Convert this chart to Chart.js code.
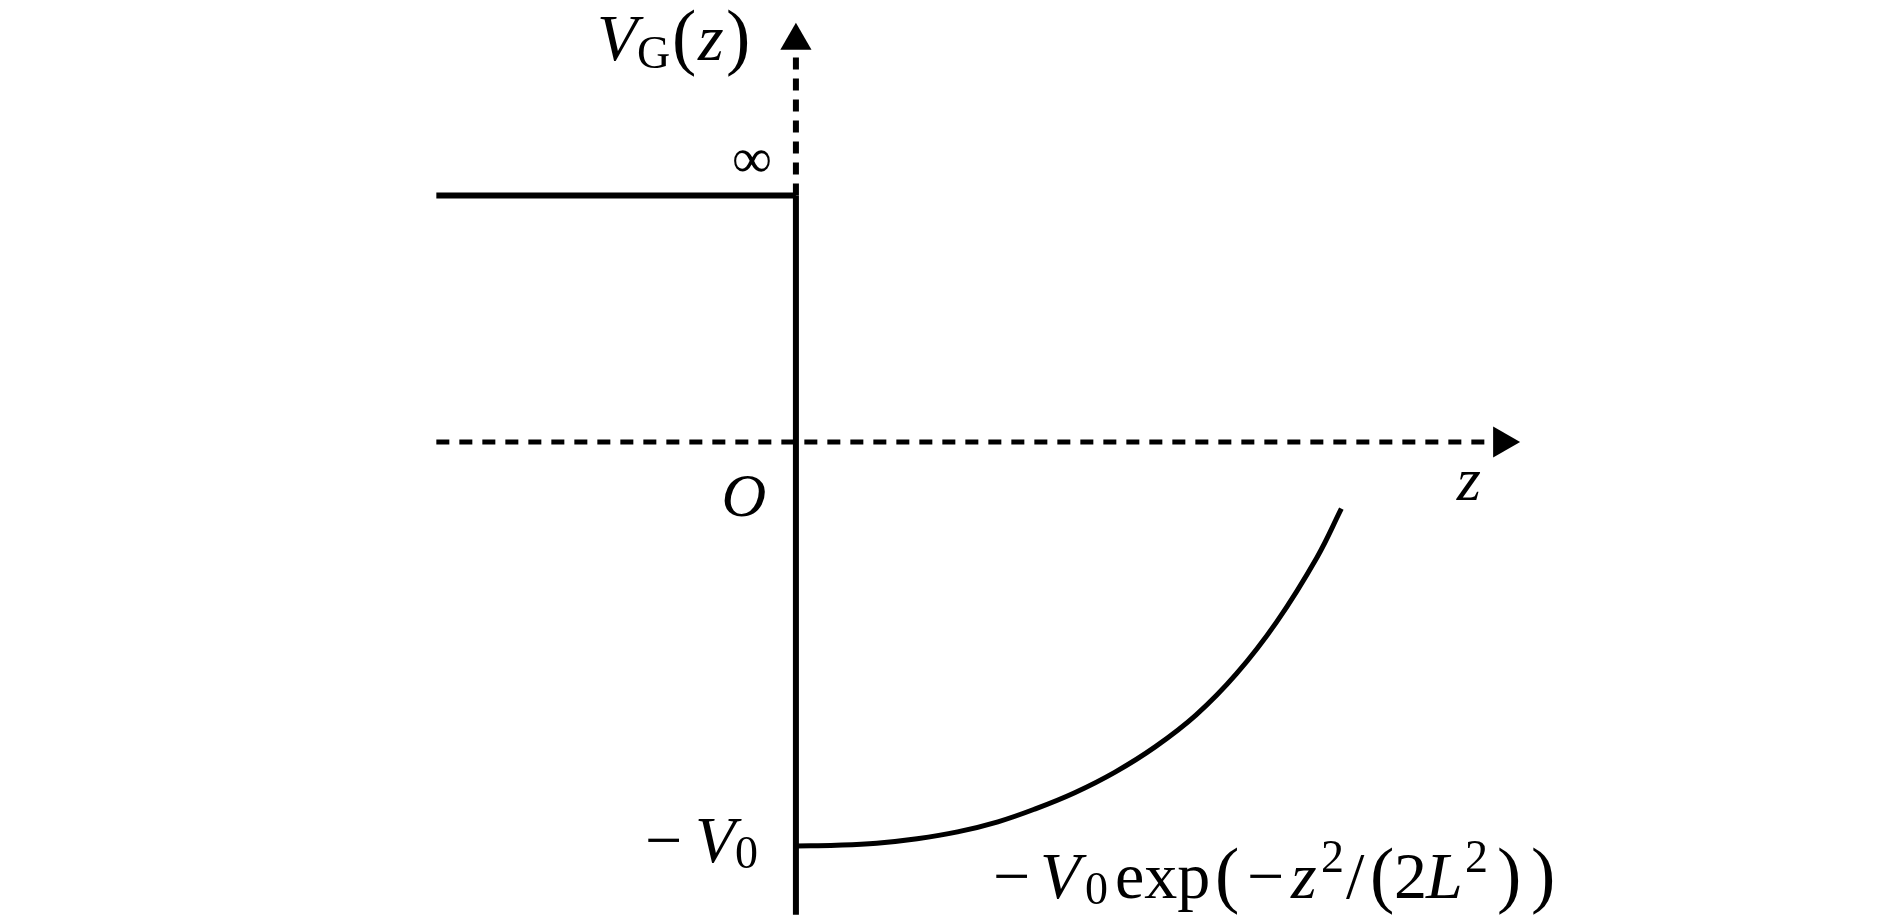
<!DOCTYPE html>
<html>
<head>
<meta charset="utf-8">
<script src="https://cdn.jsdelivr.net/npm/chart.js@4.4.0/dist/chart.umd.min.js"></script>
<style>
  html, body { margin: 0; padding: 0; background: #fff; }
  #wrap { width: 1890px; height: 922px; position: relative; }
</style>
</head>
<body>
<div id="wrap"><canvas id="chart"></canvas></div>
<script>
// units: V in V0, z in the same length as V0 on screen
const wallZ = [-0.89, 0];
const wallV = [0.61, 0.61];
const barrierZ = [0, 0];
const barrierV = [0.61, -1.17];
const vAxisZ = [0, 0];
const vAxisV = [0.61, 0.97];
const zAxisZ = [-0.89, 1.73];
const zAxisV = [0, 0];

// curve
const curveZ = [0, 0.1, 0.2, 0.3, 0.4, 0.5, 0.59, 0.69, 0.79, 0.89, 0.99, 1.09, 1.19, 1.29, 1.35];
const curveV = [-1.0, -0.998, -0.993, -0.982, -0.965, -0.940, -0.909, -0.868, -0.817, -0.754, -0.676, -0.574, -0.445, -0.285, -0.165];

// arrow heads (centre of triangles) on the two axes
const arrowZ = [0, 1.748];
const arrowV = [0.993, 0];
const arrowRot = [0, 90];

function pts(xs, ys) {
    let out = [];
    for (let i = 0; i < xs.length; i++) out.push({ x: xs[i], y: ys[i] });
    return out;
}

const FONT = '"Liberation Serif", "DejaVu Serif", serif';

// draw text runs, each at its own offset o (px) from x
function drawRuns(ctx, runs, x, base, size) {
    runs.forEach(r => {
        ctx.font = (r.it ? 'italic ' : '') + Math.round(size * (r.s || 1)) + 'px ' + FONT;
        ctx.fillText(r.t, x + r.o, base + (r.dy || 0) * size);
    });
}

const labelsPlugin = {
    id: 'labels',
    afterDatasetsDraw(chart) {
        const ctx = chart.ctx;
        const ox = chart.scales.x.getPixelForValue(0);
        const oy = chart.scales.y.getPixelForValue(0);
        ctx.save();
        ctx.fillStyle = '#000';
        ctx.textBaseline = 'alphabetic';
        ctx.textAlign = 'left';

        // V_G(z)
        drawRuns(ctx, [
            { t: 'V', it: true, o: 0 },
            { t: 'G', s: 0.7, dy: 0.12, o: 40 },
            { t: '(', s: 1.1, dy: 0.02, o: 75 },
            { t: 'z', it: true, o: 101 },
            { t: ')', s: 1.1, dy: 0.02, o: 129 }
        ], ox - 199, oy - 382, 66);

        // infinity
        ctx.textAlign = 'center';
        drawRuns(ctx, [{ t: '\u221E', o: 0 }], ox - 44, oy - 265, 56);

        // O
        drawRuns(ctx, [{ t: 'O', it: true, o: 0 }], ox - 52, oy + 74, 62);

        // z
        drawRuns(ctx, [{ t: 'z', it: true, o: 0 }], ox + 673, oy + 58, 62);
        ctx.textAlign = 'left';

        // -V0
        drawRuns(ctx, [
            { t: '\u2212', o: 0 },
            { t: 'V', it: true, o: 50 },
            { t: '0', s: 0.7, dy: 0.09, o: 90 }
        ], ox - 151, oy + 420, 66);

        // formula
        drawRuns(ctx, [
            { t: '\u2212', o: 0 },
            { t: 'V', it: true, o: 47 },
            { t: '0', s: 0.7, dy: 0.09, o: 92 },
            { t: 'exp', o: 122 },
            { t: '(', s: 1.1, dy: 0.02, o: 222 },
            { t: '\u2212', o: 254 },
            { t: 'z', it: true, o: 298 },
            { t: '2', s: 0.7, dy: -0.4, o: 328 },
            { t: '/', o: 353 },
            { t: '(', s: 1.1, dy: 0.02, o: 377 },
            { t: '2', o: 401 },
            { t: 'L', it: true, o: 433 },
            { t: '2', s: 0.7, dy: -0.4, o: 472 },
            { t: ')', s: 1.1, dy: 0.02, o: 504 },
            { t: ')', s: 1.1, dy: 0.02, o: 538 }
        ], ox + 197, oy + 456, 66);

        ctx.restore();
    }
};

new Chart(document.getElementById('chart'), {
    type: 'scatter',
    data: {
        datasets: [
            { data: pts(zAxisZ, zAxisV), showLine: true, borderColor: '#000', borderWidth: 5, borderDash: [13, 10], pointRadius: 0 },
            { data: pts(vAxisZ, vAxisV), showLine: true, borderColor: '#000', borderWidth: 6, borderDash: [12, 9], pointRadius: 0 },
            { data: pts(wallZ, wallV), showLine: true, borderColor: '#000', borderWidth: 6, pointRadius: 0 },
            { data: pts(barrierZ, barrierV), showLine: true, borderColor: '#000', borderWidth: 6, pointRadius: 0 },
            { data: pts(curveZ, curveV), showLine: true, borderColor: '#000', borderWidth: 5, pointRadius: 0, tension: 0.4 },
            { data: pts(arrowZ, arrowV), showLine: false, pointStyle: 'triangle', pointRadius: 18, rotation: arrowRot, backgroundColor: '#000', borderColor: '#000', borderWidth: 0 }
        ]
    },
    options: {
        responsive: true,
        maintainAspectRatio: false,
        animation: false,
        layout: { padding: 0, autoPadding: false },
        plugins: { legend: { display: false }, tooltip: { enabled: false }, title: { display: false } },
        scales: {
            x: { type: 'linear', display: false, min: -1.970, max: 2.708 },
            y: { type: 'linear', display: false, min: -1.188, max: 1.094 }
        }
    },
    plugins: [labelsPlugin]
});
</script>
</body>
</html>
